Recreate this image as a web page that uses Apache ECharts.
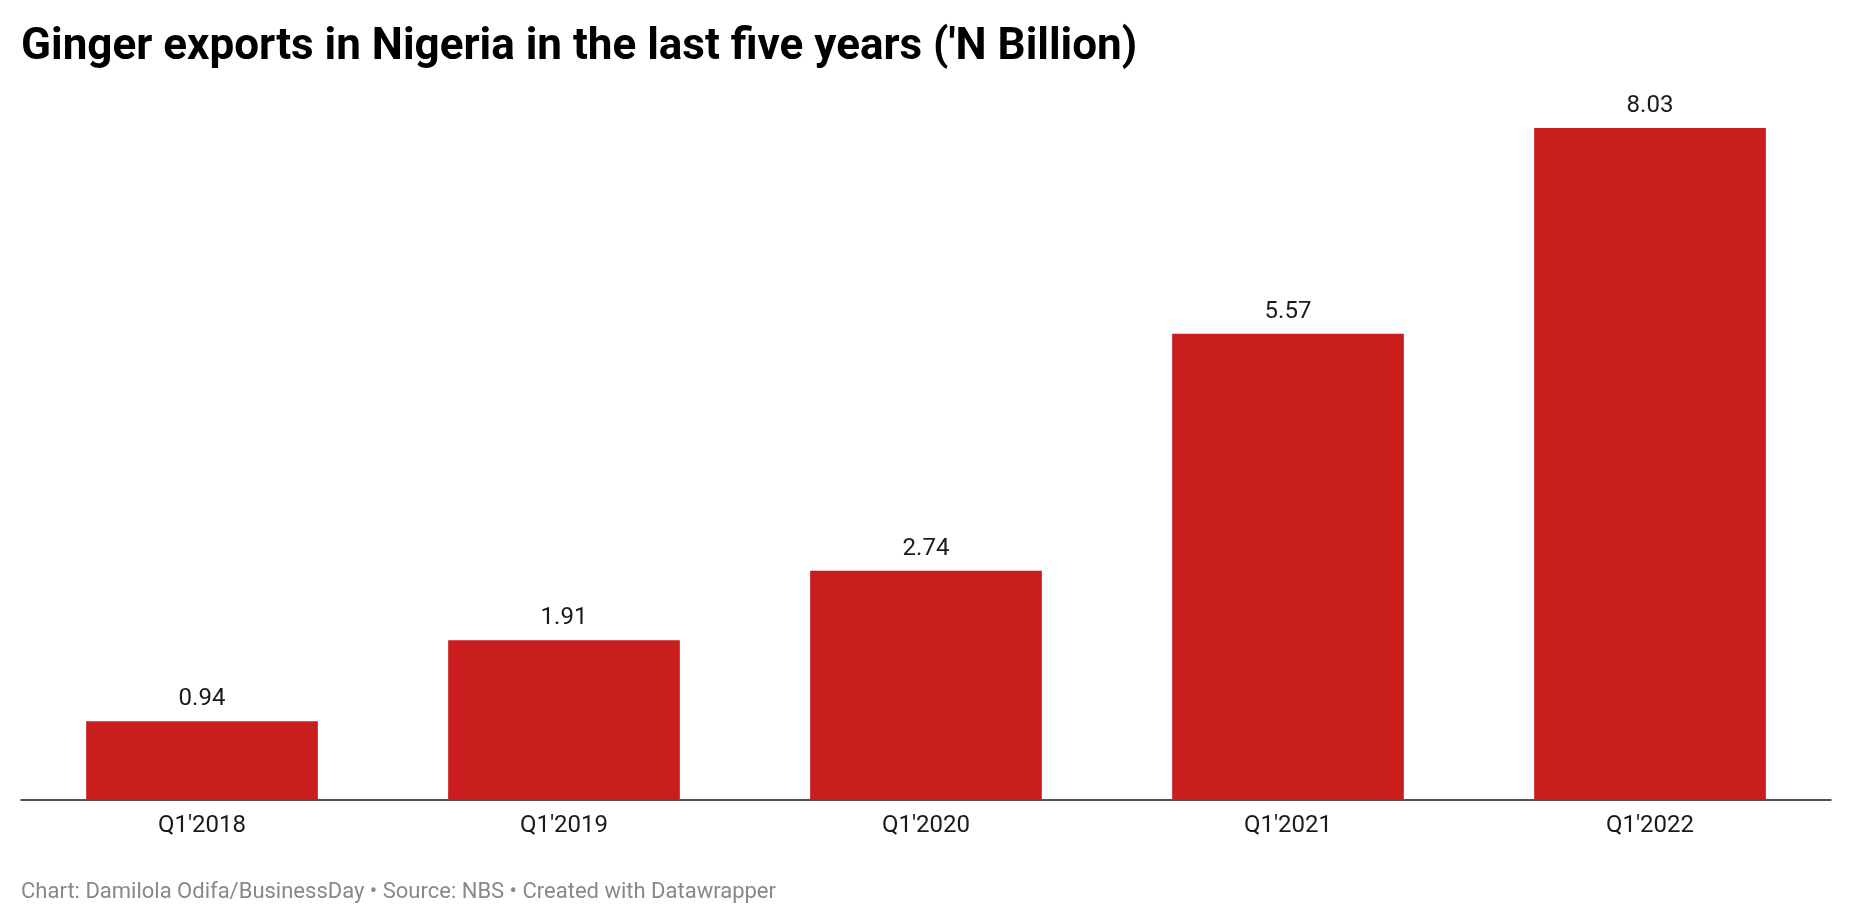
<!DOCTYPE html>
<html>
<head>
<meta charset="utf-8">
<script src="https://cdn.jsdelivr.net/npm/echarts@6/dist/echarts.min.js"></script>
<style>
html,body{margin:0;padding:0;background:#fff;}
#chart{width:1852px;height:924px;}
</style>
</head>
<body>
<div id="chart"></div>
<script>
const categories = ["Q1'2018", "Q1'2019", "Q1'2020", "Q1'2021", "Q1'2022"];
const exportValues = [0.94, 1.91, 2.74, 5.57, 8.03];
const titleText = "Ginger exports in Nigeria in the last five years ('N Billion)";
const footerText = "Chart: Damilola Odifa/BusinessDay \u2022 Source: NBS \u2022 Created with Datawrapper";

const chart = echarts.init(document.getElementById('chart'), null, {renderer: 'canvas'});
chart.setOption({
  animation: false,
  backgroundColor: '#ffffff',
  textStyle: {fontFamily: 'Roboto'},
  graphic: [
    {type: 'text', left: 21, top: 26,
     style: {text: titleText, fontFamily: 'Roboto', fontWeight: 'bold', fontSize: 44, fill: '#000000'}},
    {type: 'text', left: 21, top: 881,
     style: {text: footerText, fontFamily: 'Roboto', fontSize: 22, fill: '#888888'}}
  ],
  grid: {left: 21, right: 21, top: 128, bottom: 124, containLabel: false},
  xAxis: {
    type: 'category',
    data: categories,
    axisTick: {show: false},
    axisLine: {show: true, lineStyle: {color: '#1a1a1a', width: 1.5}},
    axisLabel: {color: '#1a1a1a', fontSize: 24, margin: 14, fontFamily: 'Roboto'}
  },
  yAxis: {
    type: 'value',
    min: 0,
    max: 8.03,
    show: false,
    splitLine: {show: false}
  },
  series: [{
    type: 'bar',
    data: exportValues,
    barWidth: '64%',
    itemStyle: {color: '#c91d1e'},
    label: {show: true, position: 'top', distance: 10, fontSize: 24, color: '#1a1a1a', fontFamily: 'Roboto',
            formatter: p => p.value.toFixed(2)}
  }]
});
</script>
</body>
</html>
